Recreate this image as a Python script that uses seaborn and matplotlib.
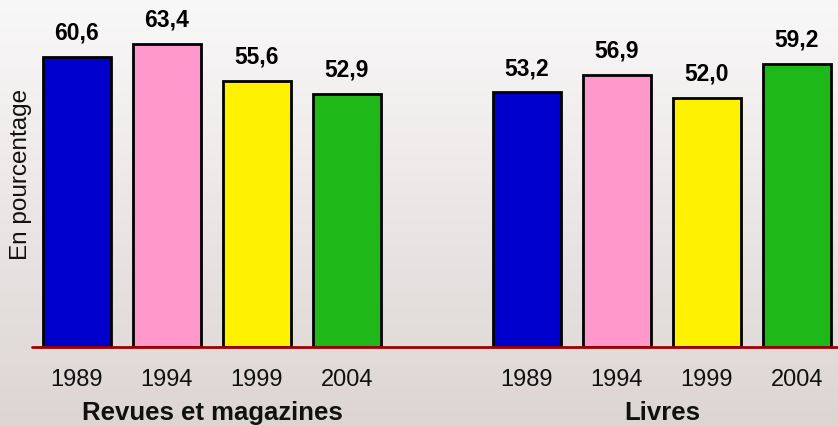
import numpy as np
import pandas as pd
import matplotlib
matplotlib.use("Agg")
import matplotlib.pyplot as plt
import matplotlib.transforms as mtransforms
from matplotlib.colors import LinearSegmentedColormap
import seaborn as sns

years = ["1989", "1994", "1999", "2004"]
revues = [60.6, 63.4, 55.6, 52.9]
livres = [53.2, 56.9, 52.0, 59.2]
groups = ["Revues et magazines", "Livres"]
colors = ["#0000cc", "#ff99cc", "#fff200", "#1fb819"]

sns.set_theme(style="white")
plt.rcParams["font.family"] = ["Liberation Sans", "DejaVu Sans"]

rows = []
for g, vals in zip(groups, [revues, livres]):
    for y, v in zip(years, vals):
        rows.append({"key": f"{g}|{y}", "year": y, "value": v, "group": g})
df = pd.DataFrame(rows)
order = [f"{groups[0]}|{y}" for y in years] + ["gap"] + [f"{groups[1]}|{y}" for y in years]

fig = plt.figure(figsize=(8.38, 4.27), dpi=100)

# gradient background
bg = fig.add_axes([0, 0, 1, 1], zorder=0)
cmap = LinearSegmentedColormap.from_list("bg", ["#f9f8f8", "#dcd5d3"])
bg.imshow(np.linspace(0, 1, 256).reshape(-1, 1), aspect="auto", cmap=cmap,
          extent=[0, 1, 0, 1])
bg.set_axis_off()

W, H = 838, 427
ax = fig.add_axes([32 / W, (H - 348) / H, 1 - 32 / W, 348 / H], zorder=1)
ax.patch.set_alpha(0)

sns.barplot(data=df, x="key", y="value", hue="year", order=order,
            hue_order=years, palette=colors, dodge=False, width=0.756,
            saturation=1, edgecolor="black", linewidth=2, legend=False, ax=ax)

ax.set_ylim(0, 72.7)
ax.set_xlim(-0.5, 8.456)

for c in ax.containers:
    labels = [f"{v:.1f}".replace(".", ",") if not np.isnan(v) else "" for v in c.datavalues]
    ax.bar_label(c, labels=labels, padding=9.5, fontsize=16.5, fontweight="bold",
                 color="black")

pos = [0, 1, 2, 3, 5, 6, 7, 8]
ax.set_xticks(pos)
ax.set_xticklabels(years + years, fontsize=17, color="#111111")
ax.tick_params(axis="x", length=0, pad=15)
ax.set_yticks([])
ax.set_xlabel("")
ax.set_ylabel("En pourcentage", fontsize=17.5, labelpad=0, color="#111111")
for s in ax.spines.values():
    s.set_visible(False)
ax.axhline(0, color="#a00000", lw=2, zorder=5, clip_on=False)

trans = mtransforms.blended_transform_factory(ax.transData, ax.transAxes)
ax.text(1.5, -0.186, groups[0], transform=trans, ha="center", va="center",
        fontsize=18.5, fontweight="bold", color="#111111")
ax.text(6.5, -0.186, groups[1], transform=trans, ha="center", va="center",
        fontsize=18.5, fontweight="bold", color="#111111")

fig.savefig("out.png", dpi=100)
